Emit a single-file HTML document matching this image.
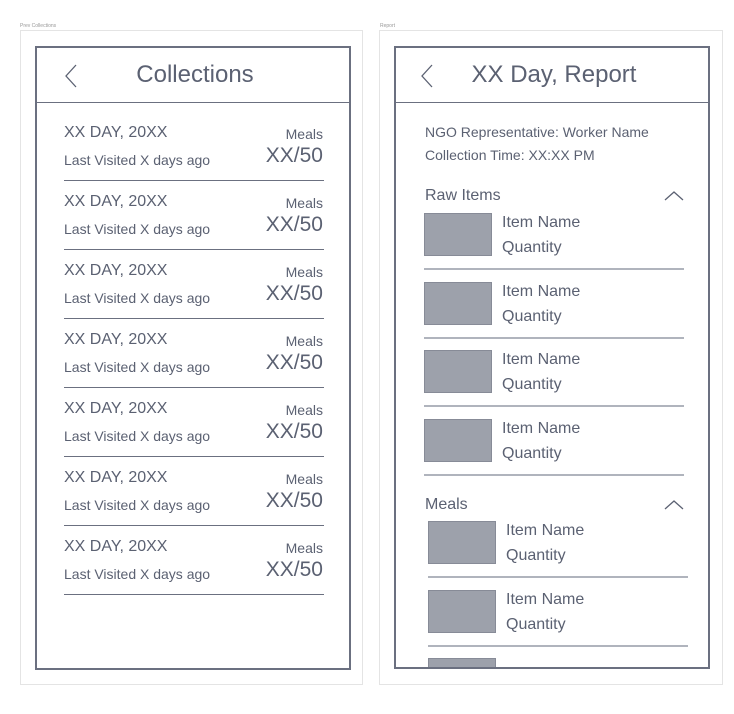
<!DOCTYPE html>
<html><head><meta charset="utf-8"><style>
*{margin:0;padding:0;box-sizing:border-box}
body{width:734px;height:714px;background:#fff;position:relative;overflow:hidden;font-family:"Liberation Sans",sans-serif;color:#5b6172}
.abs{position:absolute;white-space:nowrap}
.lbl{font-size:5px;color:#999}
.board{border:1px solid #e4e4e4;background:#fff}
.phone{border:2px solid #6b7080;overflow:hidden}
.hline{position:absolute;left:0;right:0;height:1px;background:#6b7080}
.sep{position:absolute;height:1px;background:#6b7080}
.sep2{position:absolute;height:2px;background:#b0b4bd}
.box{position:absolute;background:#9da1ab;border:1px solid #878b97}
</style></head><body>
<div class="abs lbl" style="left:20px;top:23px">Prev Collections</div>
<div class="abs lbl" style="left:380px;top:23px">Report</div>
<div class="abs board" style="left:20px;top:30px;width:343px;height:655px"></div>
<div class="abs board" style="left:379px;top:30px;width:344px;height:655px"></div>

<div class="abs phone" id="p1" style="left:35px;top:46px;width:316px;height:624px">
  <div class="hline" style="top:54px"></div>
  <svg class="abs" style="left:27px;top:16px" width="14" height="24"><polyline points="12,1 2,12 12,23" fill="none" stroke="#5b6172" stroke-width="1.3"/></svg>
  <div class="abs" style="left:0;width:316px;text-align:center;top:13px;font-size:24px">Collections</div>
</div>

<div class="abs phone" id="p2" style="left:394px;top:46px;width:316px;height:623px">
  <div class="hline" style="top:54px"></div>
  <svg class="abs" style="left:24px;top:16px" width="14" height="24"><polyline points="12,1 2,12 12,23" fill="none" stroke="#5b6172" stroke-width="1.3"/></svg>
  <div class="abs" style="left:0;width:316px;text-align:center;top:13px;font-size:24px">XX Day, Report</div>
  <div class="abs" style="left:29px;top:76px;font-size:14px">NGO Representative: Worker Name</div>
  <div class="abs" style="left:29px;top:99px;font-size:14px">Collection Time: XX:XX PM</div>
  <div class="abs" style="left:29px;top:139px;font-size:16px">Raw Items</div>
  <svg class="abs" style="left:268px;top:143px" width="20" height="10"><polyline points="1,9 10,1 19,9" fill="none" stroke="#5b6172" stroke-width="1.3"/></svg>
  <div class="abs" style="left:29px;top:448px;font-size:16px">Meals</div>
  <svg class="abs" style="left:268px;top:452px" width="20" height="10"><polyline points="1,9 10,1 19,9" fill="none" stroke="#5b6172" stroke-width="1.3"/></svg>
</div>

<script>
const rowDates=["XX DAY, 20XX","XX DAY, 20XX","XX DAY, 20XX","XX DAY, 20XX","XX DAY, 20XX","XX DAY, 20XX","XX DAY, 20XX"];
const rowMeals=["XX/50","XX/50","XX/50","XX/50","XX/50","XX/50","XX/50"];
const rawItems=["Item Name","Item Name","Item Name","Item Name"];
const mealItems=["Item Name","Item Name",""];
const p1=document.getElementById('p1');
const p2=document.getElementById('p2');
function add(parent,html,css){const d=document.createElement('div');d.className='abs';d.style.cssText=css;d.innerHTML=html;parent.appendChild(d);return d;}
rowDates.forEach((t,i)=>{
  const y=i*69;
  const a=add(p1,t,`left:27px;top:${76+y}px;font-size:16px`);
  
  
  const b=add(p1,'Last Visited X days ago',`left:27px;top:${104+y}px;font-size:14px`);
  
  
  const c=add(p1,'Meals',`right:26px;top:${78+y}px;font-size:14px`);
  
  
  const d=add(p1,rowMeals[i],`right:26px;top:${96+y}px;font-size:21px`);
  
  
  const s=document.createElement('div');s.className='sep';s.style.cssText=`left:27px;width:260px;top:${132+y}px`;
  
  
  p1.appendChild(s);
});
function items(arr,top,x){
  arr.forEach((t,i)=>{
    const y=top+i*68.5;
    const bx=document.createElement('div');bx.className='box';bx.style.cssText=`left:${x}px;top:${y}px;width:68px;height:43px`;
    
    
    p2.appendChild(bx);
    if(!t) return;
    const a=add(p2,t,`left:${x+78}px;top:${y+1}px;font-size:16px`);
    
    
    const b=add(p2,'Quantity',`left:${x+78}px;top:${y+26}px;font-size:16px`);
    
    
    const s=document.createElement('div');s.className='sep2';s.style.cssText=`left:${x}px;width:260px;top:${y+55}px`;
    
    
    p2.appendChild(s);
  });
}
items(rawItems,165,28);
items(mealItems,473,32);
</script>
</body></html>
